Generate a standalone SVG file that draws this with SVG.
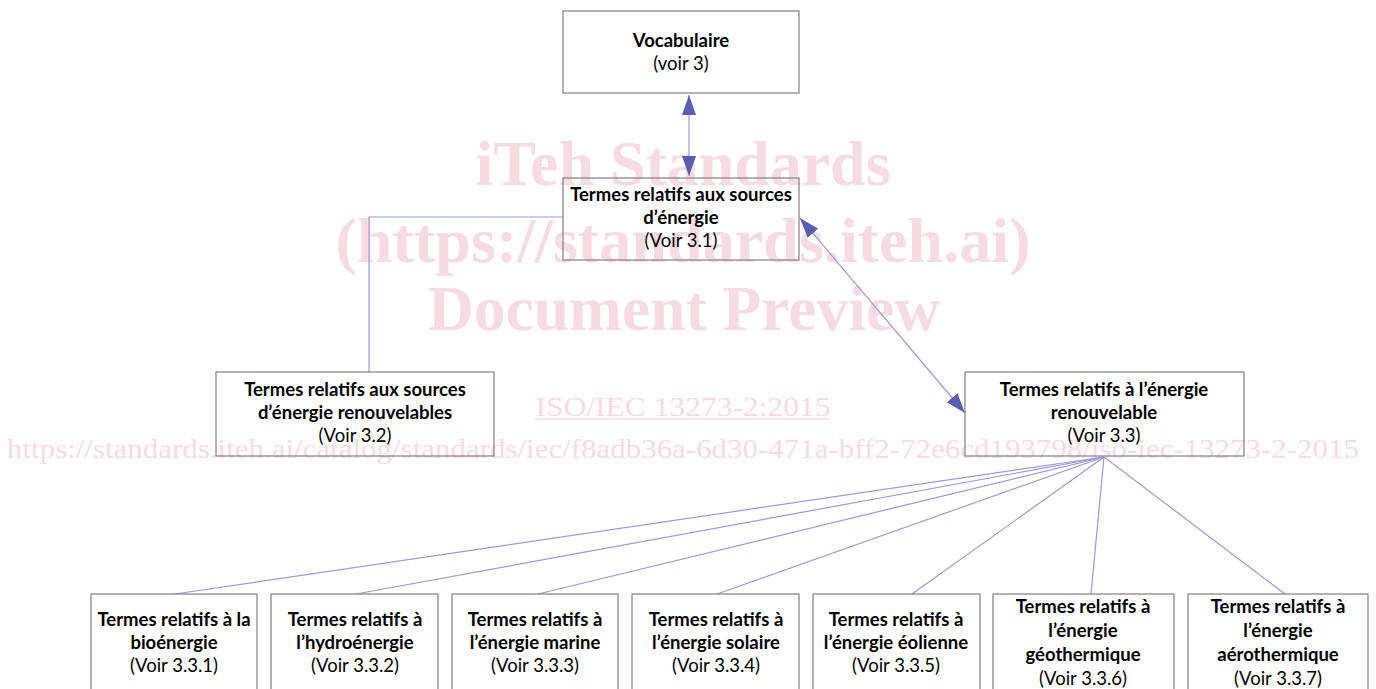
<svg xmlns="http://www.w3.org/2000/svg" width="1376" height="689" viewBox="0 0 1376 689">
<style>
.wm{fill:#f7dbe3;font-family:"Liberation Serif",serif;}
.wmb{font-weight:bold;font-size:64px;}
.wms{font-size:28px;}
.box{fill:none;stroke:#808080;stroke-width:1.2;}
.t{font-family:Lato,"Liberation Sans",sans-serif;font-size:18.5px;fill:#000;text-anchor:middle;}
.b{font-weight:bold;}
.c{stroke:#9a9ade;stroke-width:1.2;fill:none;}
</style>
<defs>
<marker id="ah" markerUnits="userSpaceOnUse" markerWidth="22" markerHeight="16" refX="20" refY="7" orient="auto-start-reverse" viewBox="0 0 22 14">
<path d="M0,0 L20,7 L0,14 Z" fill="#5b5db5"/>
</marker>
</defs>
<rect width="1376" height="689" fill="#fff"/>
<g id="watermark">
<text class="wm wmb" x="683" y="185" text-anchor="middle" textLength="415" lengthAdjust="spacingAndGlyphs">iTeh Standards</text>
<text class="wm wmb" x="683" y="262" text-anchor="middle" textLength="695" lengthAdjust="spacingAndGlyphs">(https://standards.iteh.ai)</text>
<text class="wm wmb" x="684" y="330" text-anchor="middle" textLength="512" lengthAdjust="spacingAndGlyphs">Document Preview</text>
<text class="wm wms" x="683" y="416" text-anchor="middle" textLength="295" lengthAdjust="spacingAndGlyphs">ISO/IEC 13273-2:2015</text>
<line x1="535" y1="419" x2="830" y2="419" stroke="#f7dbe3" stroke-width="1.5"/>
<text class="wm wms" x="683" y="458" text-anchor="middle" textLength="1352" lengthAdjust="spacingAndGlyphs">https://standards.iteh.ai/catalog/standards/iec/f8adb36a-6d30-471a-bff2-72e6cd193798/iso-iec-13273-2-2015</text>
</g>
<g id="connectors">
<line class="c" x1="689" y1="95" x2="689" y2="176" marker-start="url(#ah)" marker-end="url(#ah)"/>
<polyline class="c" points="563,217 369,217 369,372"/>
<line class="c" x1="800" y1="218" x2="965" y2="413" marker-start="url(#ah)" marker-end="url(#ah)"/>
<line class="c" x1="1104" y1="457" x2="175" y2="594"/>
<line class="c" x1="1104" y1="457" x2="356" y2="594"/>
<line class="c" x1="1104" y1="457" x2="538" y2="594"/>
<line class="c" x1="1104" y1="457" x2="717" y2="594"/>
<line class="c" x1="1104" y1="457" x2="912" y2="594"/>
<line class="c" x1="1104" y1="457" x2="1091" y2="594"/>
<line class="c" x1="1104" y1="457" x2="1285" y2="594"/>
</g>
<g id="n-vocab">
<rect class="box" x="563" y="11" width="236" height="82"/>
<text class="t b" x="681" y="47">Vocabulaire</text>
<text class="t" x="681" y="70">(voir 3)</text>
</g>
<g id="n-sources">
<rect class="box" x="563" y="178" width="236" height="82"/>
<text class="t b" x="681" y="201">Termes relatifs aux sources</text>
<text class="t b" x="681" y="224">d’énergie</text>
<text class="t" x="681" y="247">(Voir 3.1)</text>
</g>
<g id="n-renouvelables">
<rect class="box" x="216" y="372" width="278" height="84"/>
<text class="t b" x="355" y="396">Termes relatifs aux sources</text>
<text class="t b" x="355" y="419">d’énergie renouvelables</text>
<text class="t" x="355" y="442">(Voir 3.2)</text>
</g>
<g id="n-renouvelable">
<rect class="box" x="965" y="372" width="279" height="84"/>
<text class="t b" x="1104" y="396">Termes relatifs à l’énergie</text>
<text class="t b" x="1104" y="419">renouvelable</text>
<text class="t" x="1104" y="442">(Voir 3.3)</text>
</g>
<g id="n-bio">
<rect class="box" x="91" y="594" width="166" height="100"/>
<text class="t b" x="174" y="626">Termes relatifs à la</text>
<text class="t b" x="174" y="649">bioénergie</text>
<text class="t" x="174" y="672">(Voir 3.3.1)</text>
</g>
<g id="n-hydro">
<rect class="box" x="271" y="594" width="167" height="100"/>
<text class="t b" x="355" y="626">Termes relatifs à</text>
<text class="t b" x="355" y="649">l’hydroénergie</text>
<text class="t" x="355" y="672">(Voir 3.3.2)</text>
</g>
<g id="n-marine">
<rect class="box" x="452" y="594" width="166" height="100"/>
<text class="t b" x="535" y="626">Termes relatifs à</text>
<text class="t b" x="535" y="649">l’énergie marine</text>
<text class="t" x="535" y="672">(Voir 3.3.3)</text>
</g>
<g id="n-solaire">
<rect class="box" x="632" y="594" width="167" height="100"/>
<text class="t b" x="716" y="626">Termes relatifs à</text>
<text class="t b" x="716" y="649">l’énergie solaire</text>
<text class="t" x="716" y="672">(Voir 3.3.4)</text>
</g>
<g id="n-eolienne">
<rect class="box" x="813" y="594" width="167" height="100"/>
<text class="t b" x="896" y="626">Termes relatifs à</text>
<text class="t b" x="896" y="649">l’énergie éolienne</text>
<text class="t" x="896" y="672">(Voir 3.3.5)</text>
</g>
<g id="n-geo">
<rect class="box" x="993" y="594" width="181" height="100"/>
<text class="t b" x="1083" y="613">Termes relatifs à</text>
<text class="t b" x="1083" y="637">l’énergie</text>
<text class="t b" x="1083" y="661">géothermique</text>
<text class="t" x="1083" y="685">(Voir 3.3.6)</text>
</g>
<g id="n-aero">
<rect class="box" x="1188" y="594" width="180" height="100"/>
<text class="t b" x="1278" y="613">Termes relatifs à</text>
<text class="t b" x="1278" y="637">l’énergie</text>
<text class="t b" x="1278" y="661">aérothermique</text>
<text class="t" x="1278" y="685">(Voir 3.3.7)</text>
</g>
</svg>
